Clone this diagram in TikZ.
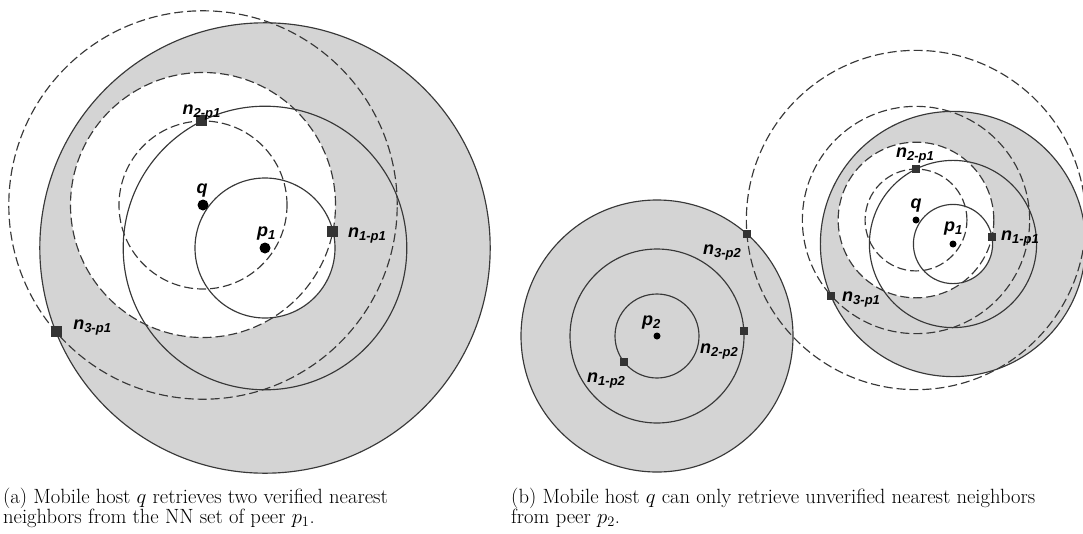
\documentclass[tikz,border=0pt]{standalone}
\usepackage{fontspec}
\newfontfamily\lblfont{Liberation Sans}
\usetikzlibrary{calc}
\definecolor{ringgray}{gray}{0.83}
\definecolor{ringline}{gray}{0.22}
\newcommand{\nsub}[1]{\raisebox{-3pt}{\fontsize{13}{13}\selectfont #1}}
\tikzset{
 ringsolid/.style={draw=ringline,line width=1.15pt},
 ringdash/.style={draw=ringline,line width=1.15pt,dash pattern=on 9pt off 4pt},
}
\begin{document}
\begin{tikzpicture}[x=1pt,y=-1pt,
 nbr/.style={rectangle,fill=black!80,inner sep=0pt,minimum size=#1},
 nbr/.default=11pt,
 host/.style={circle,fill=black,inner sep=0pt,minimum size=#1},
 host/.default=11pt,
 lbl/.style={inner sep=0pt,font=\lblfont\bfseries\itshape\fontsize{18}{18}\selectfont},
 captext/.style={inner sep=0pt,anchor=base west,font=\fontsize{20.6}{20.6}\selectfont}]
 \path[fill=white] (0,0) rectangle (1083,533);
 \useasboundingbox (0,0) rectangle (1083,533);

 \coordinate (qA) at (203,205);
 \coordinate (pA) at (265,248);
 \coordinate (nA1) at ($(pA)+(-14:70)$);
 \coordinate (nA2) at ($(pA)+(-116.4:141.8)$);
 \coordinate (nA3) at ($(pA)+(158.1:225.2)$);

 \coordinate (pB) at (657,336);
 \coordinate (nB1) at ($(pB)+(141.8:42)$);
 \coordinate (nB2) at ($(pB)+(-3.3:87)$);
 \coordinate (nB3) at ($(pB)+(-48.6:136)$);

 \coordinate (qC) at (916,220);
 \coordinate (pC) at (953,244);
 \coordinate (nC1) at ($(pC)+(-10.2:39.6)$);
 \coordinate (nC2) at ($(pC)+(-116.3:83.6)$);
 \coordinate (nC3) at ($(pC)+(156.9:132.6)$);

 \fill[ringgray] (pA) circle (225.2);
 \fill[white] let \p1=($(nA1)-(qA)$) in (qA) circle ({veclen(\x1,\y1)});
 \fill[white] (pA) circle (70);
 \draw[ringsolid] (pA) circle (70) (pA) circle (141.8) (pA) circle (225.2);
 \draw[ringdash] let \p1=($(nA1)-(qA)$), \p2=($(nA2)-(qA)$), \p3=($(nA3)-(qA)$) in
  (qA) circle ({veclen(\x1,\y1)}) (qA) circle ({veclen(\x2,\y2)}) (qA) circle ({veclen(\x3,\y3)});

 \fill[ringgray] (pB) circle (136);
 \fill[ringgray] (pC) circle (132.6);
 \fill[white] let \p1=($(nC1)-(qC)$) in (qC) circle ({veclen(\x1,\y1)});
 \fill[white] (pC) circle (39.6);
 \draw[ringsolid] (pB) circle (42) (pB) circle (87) (pB) circle (136);
 \draw[ringsolid] (pC) circle (39.6) (pC) circle (83.6) (pC) circle (132.6);
 \draw[ringdash] let \p1=($(nC1)-(qC)$), \p2=($(nC2)-(qC)$), \p3=($(nC3)-(qC)$), \p4=($(nB3)-(qC)$) in
  (qC) circle ({veclen(\x1,\y1)}) (qC) circle ({veclen(\x2,\y2)}) (qC) circle ({veclen(\x3,\y3)})
  (qC) circle ({veclen(\x4,\y4)});

 \node[host] (hostA) at (qA) {};
 \node[host] (peerA) at (pA) {};
 \node[nbr] (sqA1) at (nA1) {};
 \node[nbr] (sqA2) at (nA2) {};
 \node[nbr] (sqA3) at (nA3) {};
 \node[lbl,anchor=base] (labqA) at ($(qA)+(-1,-12)$) {q};
 \node[lbl,anchor=base west] (labpA) at ($(pA)+(-8,-12)$) {p\nsub{1}};
 \node[lbl,anchor=base west] (labA1) at ($(nA1)+(15,6.4)$) {n\nsub{1-p1}};
 \node[lbl,anchor=base west] (labA2) at ($(nA2)+(-19.5,-6)$) {n\nsub{2-p1}};
 \node[lbl,anchor=base west] (labA3) at ($(nA3)+(17,-2)$) {n\nsub{3-p1}};

 \node[host=7pt] (peerB) at (pB) {};
 \node[nbr=8.5pt] (sqB1) at (nB1) {};
 \node[nbr=8.5pt] (sqB2) at (nB2) {};
 \node[nbr=8.5pt] (sqB3) at (nB3) {};
 \node[lbl,anchor=base west] (labpB) at ($(pB)+(-15,-11)$) {p\nsub{2}};
 \node[lbl,anchor=base west] (labB1) at ($(nB1)+(-37,21)$) {n\nsub{1-p2}};
 \node[lbl,anchor=base west] (labB2) at ($(nB2)+(-44,22)$) {n\nsub{2-p2}};
 \node[lbl,anchor=base west] (labB3) at ($(nB3)+(-44,21)$) {n\nsub{3-p2}};

 \node[host=7pt] (hostC) at (qC) {};
 \node[host=7pt] (peerC) at (pC) {};
 \node[nbr=8.5pt] (sqC1) at (nC1) {};
 \node[nbr=8.5pt] (sqC2) at (nC2) {};
 \node[nbr=8.5pt] (sqC3) at (nC3) {};
 \node[lbl,anchor=base] (labqC) at ($(qC)+(0,-12)$) {q};
 \node[lbl,anchor=base west] (labpC) at ($(pC)+(-9,-13)$) {p\nsub{1}};
 \node[lbl,anchor=base west] (labC1) at ($(nC1)+(9,3.5)$) {n\nsub{1-p1}};
 \node[lbl,anchor=base west] (labC2) at ($(nC2)+(-20,-12)$) {n\nsub{2-p1}};
 \node[lbl,anchor=base west] (labC3) at ($(nC3)+(11,5.5)$) {n\nsub{3-p1}};

 \node[captext] (capA1) at (3,503.5) {(a) Mobile host $q$ retrieves two verified nearest};
 \node[captext] (capA2) at (3,523.5) {neighbors from the NN set of peer $p_1$.};
 \node[captext] (capB1) at (511,503.5) {(b) Mobile host $q$ can only retrieve unverified nearest neighbors};
 \node[captext] (capB2) at (511,523.5) {from peer $p_2$.};
\end{tikzpicture}
\end{document}
